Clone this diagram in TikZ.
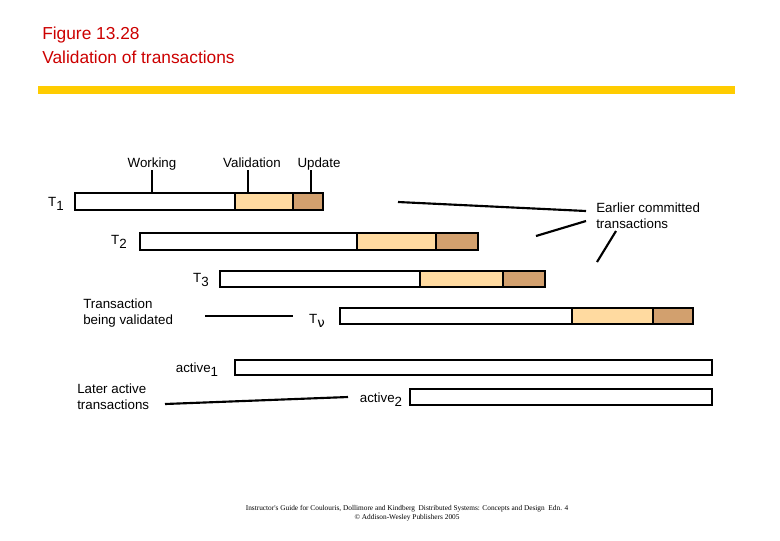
\documentclass[tikz,border=0pt]{standalone}
\usepackage{fontspec}
\setmainfont{Liberation Sans}
\newfontfamily\serifft{Liberation Serif}
\newfontfamily\grk{DejaVu Sans}
\newcommand{\lowsub}[1]{\raisebox{-0.6ex}{#1}}
\definecolor{titlered}{RGB}{204,0,0}
\definecolor{gold}{RGB}{255,204,0}
\definecolor{valc}{RGB}{255,218,160}
\definecolor{updc}{RGB}{210,160,110}
\begin{document}
\begin{tikzpicture}[x=0.75pt,y=-0.75pt,
  bar/.style={draw,line width=1.8pt,fill=white},
  lbl/.style={font=\fontsize{10}{12}\selectfont,inner sep=0pt},
  ln/.style={line width=1.6pt},
  tick/.style={line width=1.2pt}]
\useasboundingbox (0,0) rectangle (780,540);
\node[lbl,anchor=west,text=titlered,font=\fontsize{13}{15}\selectfont] (t1) at (42,35) {Figure 13.28};
\node[lbl,anchor=west,text=titlered,font=\fontsize{13}{15}\selectfont] (t2) at (42,57) {Validation of transactions};
\fill[gold] (38,86) rectangle (735,94);
\newcommand{\mybar}[6]{%
 \draw[bar] (#1,#5) rectangle (#4,#6);
 \fill[valc] (#2,#5) rectangle (#3,#6);
 \fill[updc] (#3,#5) rectangle (#4,#6);
 \draw[bar,fill=none] (#1,#5) rectangle (#4,#6);
 \draw[line width=1.8pt] (#2,#5)--(#2,#6) (#3,#5)--(#3,#6);}
\mybar{75}{235}{293}{323}{193}{210}
\mybar{140}{357}{436}{478}{233}{250}
\mybar{220}{420}{503}{545}{271}{287}
\mybar{340}{572}{653}{693}{308}{324}
\draw[bar] (235,360) rectangle (712,375);
\draw[bar] (410,389) rectangle (712,405);
\node[lbl] (T1) at (56,204) {T\lowsub{1}};
\node[lbl] (T2) at (119,242) {T\lowsub{2}};
\node[lbl] (T3) at (201,280) {T\lowsub{3}};
\node[lbl] (Tv) at (317,321) {T\lowsub{\grk ν}};
\node[lbl,anchor=base] (wk) at (152,167) {Working};
\node[lbl,anchor=base] (vl) at (252,167) {Validation};
\node[lbl,anchor=base] (up) at (319,167) {Update};
\draw[tick] (152,170)--(152,193) (248,170)--(248,193) (311,170)--(311,193);
\node[lbl,anchor=west,align=left] (ec) at (596,216) {Earlier committed\\transactions};
\coordinate (e1) at (398,202); \coordinate (e2) at (536,236); \coordinate (e3) at (597,262);
\draw[ln] (e1)--(586,211) (e2)--(586,221) (e3)--(616,231);
\node[lbl,anchor=west,align=left] (tv) at (83,313) {Transaction\\being validated};
\coordinate (v1) at (205,316); \coordinate (v2) at (293,316);
\draw[ln] (v1)--(v2);
\node[lbl] (a1) at (197,370) {active\lowsub{1}};
\node[lbl] (a2) at (381,400) {active\lowsub{2}};
\node[lbl,anchor=west,align=left] (la) at (77,397) {Later active\\transactions};
\coordinate (l1) at (165,404); \coordinate (l2) at (348,397);
\draw[ln] (l1)--(l2);
\node[inner sep=0pt,align=center,font=\serifft\fontsize{5.5}{7}\selectfont] (ft) at (407,513) {Instructor's Guide for Coulouris, Dollimore and Kindberg\ \ Distributed Systems: Concepts and Design\ \ Edn. 4\\\textcopyright\ Addison-Wesley Publishers 2005};
\end{tikzpicture}
\end{document}
